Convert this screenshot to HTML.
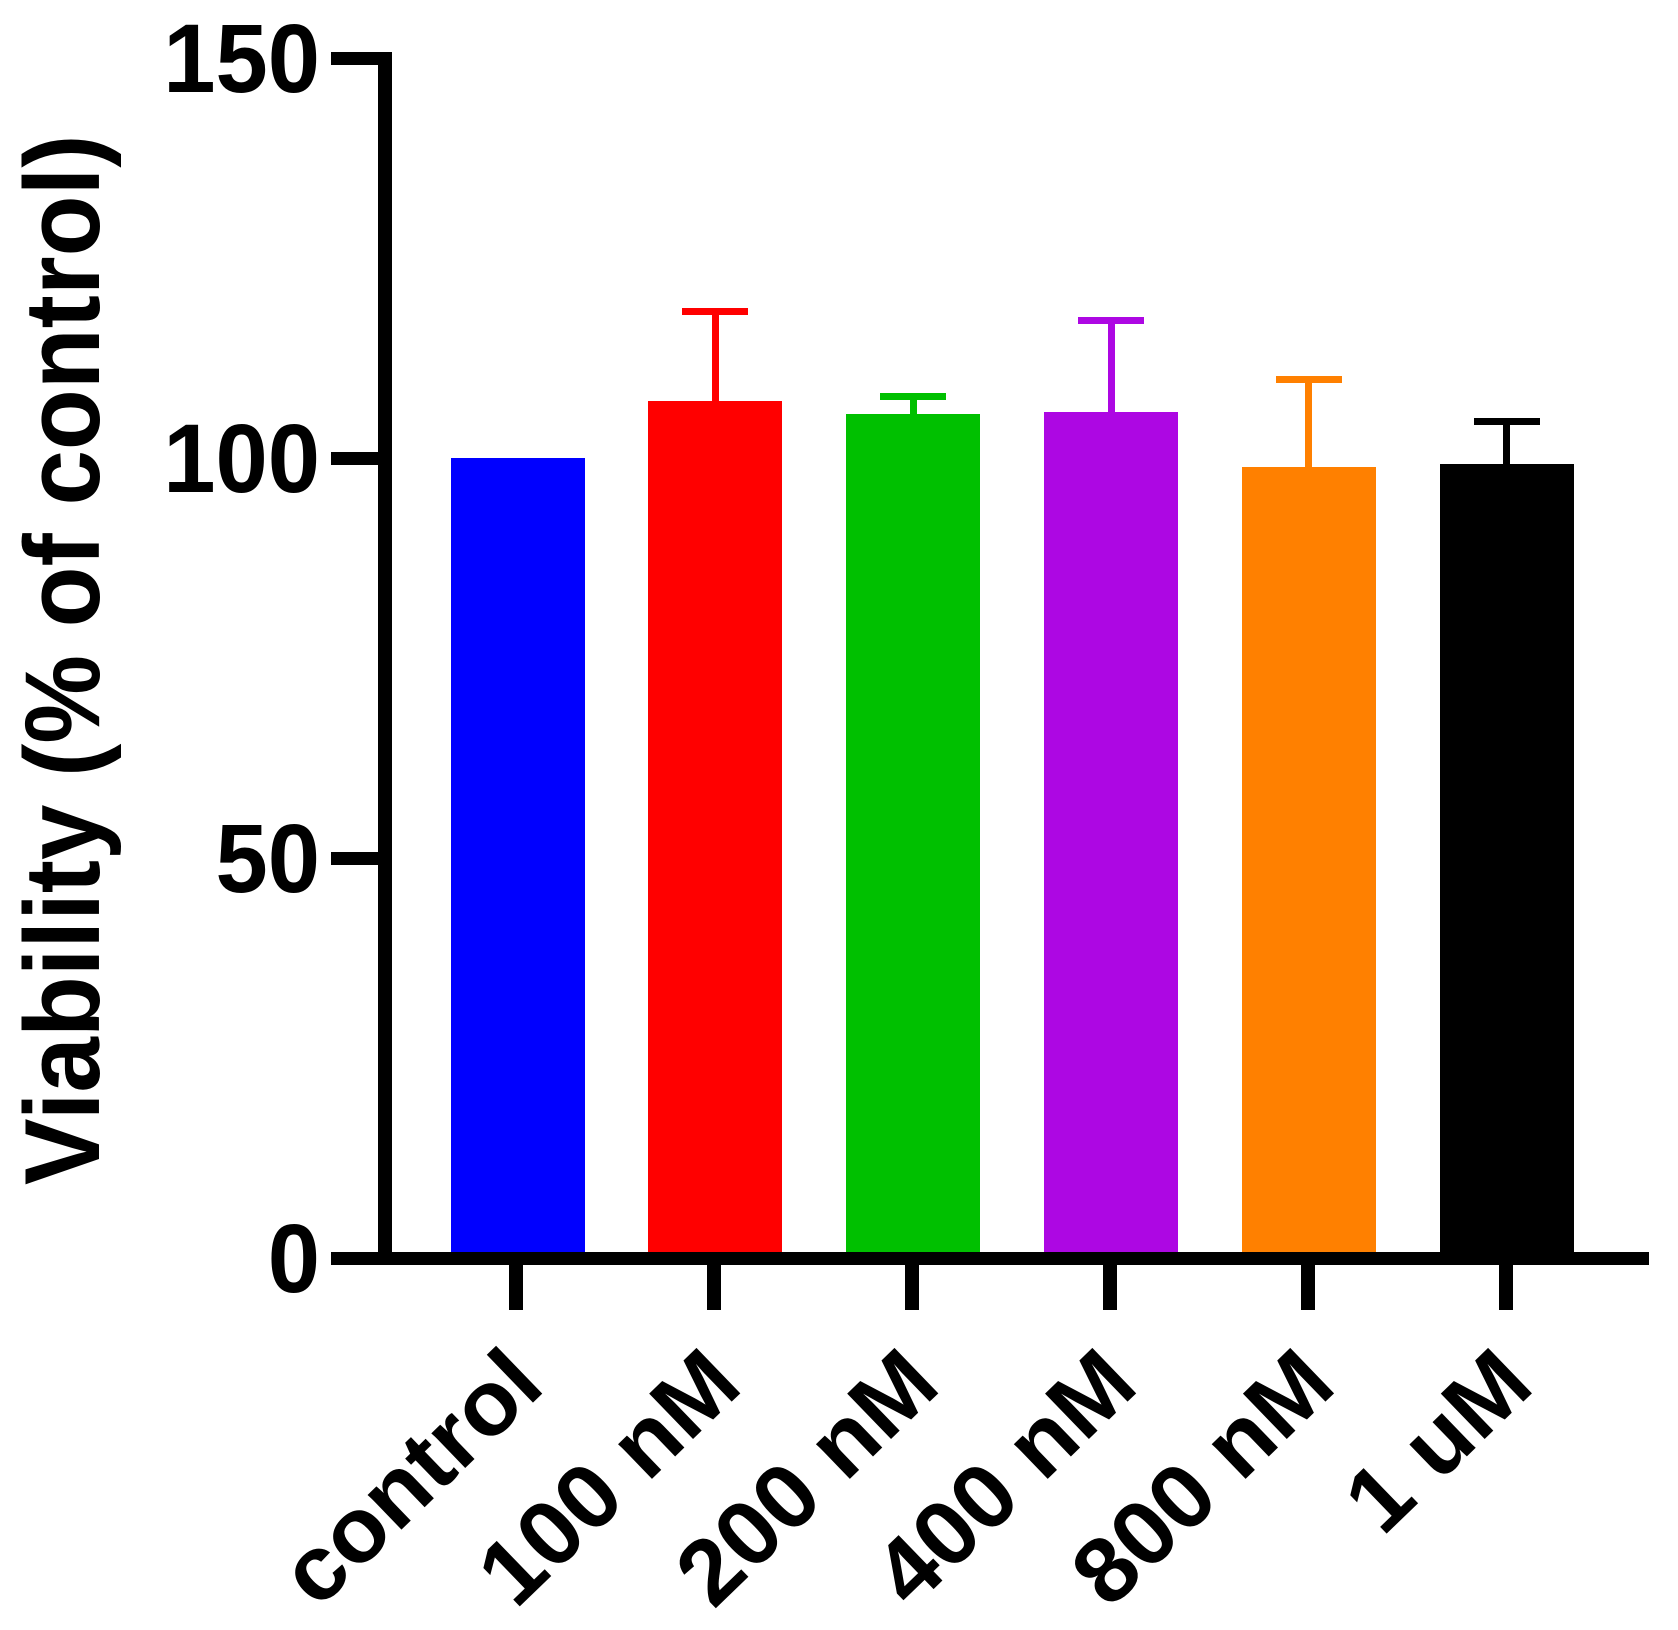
<!DOCTYPE html>
<html lang="en">
<head>
<meta charset="utf-8">
<title>Viability bar chart</title>
<style>
html,body{margin:0;padding:0;background:#fff;}
svg{display:block;}
text{font-family:"Liberation Sans",Arial,sans-serif;font-weight:bold;fill:#000;}
</style>
</head>
<body>
<svg id="chart" xmlns="http://www.w3.org/2000/svg" width="1678" height="1630" viewBox="0 0 1678 1630">
<rect x="0" y="0" width="1678" height="1630" fill="#ffffff"/>
<text transform="translate(99,1185) rotate(-90) scale(1,1.07)" font-size="99.7">Viability (% of control)</text>
</svg>
<script>
const categories = ['control', '100 nM', '200 nM', '400 nM', '800 nM', '1 uM'];
const meanValues = [100, 107.1, 105.5, 105.75, 98.9, 99.25];
const errorTops = [null, 118.3, 107.7, 117.2, 109.8, 104.6];
const yTickValues = [0, 50, 100, 150];
const yTickLabels = ['0', '50', '100', '150'];
const barColors = ['#0000FF', '#FF0000', '#00C000', '#AD07E3', '#FF8000', '#000000'];

const svg = document.getElementById('chart');
const NS = 'http://www.w3.org/2000/svg';

function yScale(v) { return 1258 - 8 * v; }
function xBarCenter(i) { return 517.6 + 197.8 * i; }
function xTickCenter(i) { return 516 + 197.9 * i; }

function rect(x, y, w, h, fill) {
  const r = document.createElementNS(NS, 'rect');
  r.setAttribute('x', Math.round(x));
  r.setAttribute('y', Math.round(y));
  r.setAttribute('width', Math.round(w));
  r.setAttribute('height', Math.round(h));
  r.setAttribute('fill', fill);
  r.setAttribute('shape-rendering', 'crispEdges');
  svg.appendChild(r);
  return r;
}

categories.forEach(function (name, i) {
  const cx = xBarCenter(i);
  const color = barColors[i];
  const top = yScale(meanValues[i]);
  const bar = rect(cx - 67, top, 134, yScale(0) - 6 - top, color);
  
  
  if (errorTops[i] !== null) {
    const eTop = yScale(errorTops[i]);
    const stem = rect(cx - 3.5, eTop, 7, top - eTop, color);
    
    
    const cap = rect(cx - 33, eTop - 3.5, 66, 7, color);
    
    
  }
});

const yAxisLine = rect(378, yScale(150) - 6, 14, yScale(0) - yScale(150) + 6, '#000000');



const xAxisLine = rect(331, yScale(0) - 6, 1318, 13, '#000000');



yTickValues.forEach(function (v, i) {
  const t = rect(331, yScale(v) - 6, 47, 13, '#000000');
  
  
  const label = document.createElementNS(NS, 'text');
  
  
  label.setAttribute('text-anchor', 'end');
  label.setAttribute('font-size', 94);
  label.setAttribute('transform', 'translate(320,' + (yScale(v) + 34) + ') scale(1,1.04)');
  label.textContent = yTickLabels[i];
  svg.appendChild(label);
});

categories.forEach(function (name, i) {
  const tx = xTickCenter(i);
  const t = rect(tx - 7, yScale(0) + 7, 14, 45, '#000000');
  
  
  const label = document.createElementNS(NS, 'text');
  
  
  label.setAttribute('text-anchor', 'end');
  label.setAttribute('font-size', 90);
  label.setAttribute('transform', 'translate(' + (tx + 31) + ',1389) rotate(-44) scale(1.045,1.02)');
  label.textContent = name;
  svg.appendChild(label);
});
</script>
</body>
</html>
